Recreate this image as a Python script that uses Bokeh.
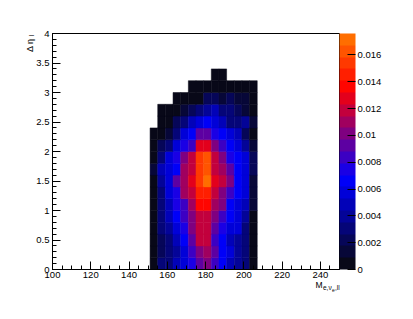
import math
from bokeh.plotting import figure
from bokeh.models import (ColumnDataSource, LinearColorMapper, ColorBar, FixedTicker,
                          SingleIntervalTicker, CustomJSTickFormatter)
from bokeh.core.properties import value
from bokeh.embed import file_html
from bokeh.resources import INLINE

# ---- data ----
x_edges = [151, 155, 159, 163, 167, 171, 175, 179, 183, 187, 191, 195, 199, 203, 207]
y_edges = [0.0, 0.2, 0.4, 0.6, 0.8, 1.0, 1.2, 1.4, 1.6, 1.8, 2.0, 2.2, 2.4, 2.6, 2.8, 3.0, 3.2, 3.4]

# rows from bottom (eta 0-0.2) to top (3.2-3.4); None = empty bin
row00 = [0.0005, 0.0030, 0.0035, 0.0045, 0.0058, 0.0075, 0.0095, 0.0100, 0.0085, 0.0070, 0.0052, 0.0042, 0.0030, 0.0006]
row01 = [0.0005, 0.0022, 0.0032, 0.0042, 0.0060, 0.0085, 0.0102, 0.0110, 0.0090, 0.0068, 0.0055, 0.0038, 0.0030, 0.0006]
row02 = [0.0005, 0.0025, 0.0035, 0.0050, 0.0065, 0.0095, 0.0115, 0.0115, 0.0085, 0.0065, 0.0052, 0.0040, 0.0030, 0.0006]
row03 = [0.0005, 0.0030, 0.0040, 0.0055, 0.0075, 0.0100, 0.0118, 0.0118, 0.0095, 0.0075, 0.0060, 0.0055, 0.0035, 0.0006]
row04 = [0.0005, 0.0030, 0.0048, 0.0063, 0.0085, 0.0105, 0.0122, 0.0122, 0.0100, 0.0085, 0.0063, 0.0058, 0.0040, 0.0006]
row05 = [0.0006, 0.0035, 0.0052, 0.0072, 0.0085, 0.0112, 0.0133, 0.0133, 0.0112, 0.0098, 0.0065, 0.0060, 0.0045, 0.0012]
row06 = [0.0006, 0.0035, 0.0060, 0.0075, 0.0108, 0.0118, 0.0143, 0.0144, 0.0122, 0.0102, 0.0085, 0.0062, 0.0055, 0.0012]
row07 = [0.0006, 0.0040, 0.0060, 0.0090, 0.0112, 0.0125, 0.0150, 0.0175, 0.0132, 0.0115, 0.0102, 0.0065, 0.0058, 0.0012]
row08 = [0.0012, 0.0045, 0.0060, 0.0066, 0.0110, 0.0118, 0.0155, 0.0160, 0.0122, 0.0110, 0.0095, 0.0065, 0.0060, 0.0025]
row09 = [0.0006, 0.0030, 0.0060, 0.0075, 0.0102, 0.0118, 0.0150, 0.0160, 0.0115, 0.0102, 0.0075, 0.0070, 0.0060, 0.0025]
row10 = [0.0005, 0.0020, 0.0030, 0.0055, 0.0072, 0.0085, 0.0130, 0.0130, 0.0102, 0.0085, 0.0063, 0.0058, 0.0040, 0.0010]
row11 = [0.0004, 0.0006, 0.0015, 0.0035, 0.0058, 0.0065, 0.0095, 0.0095, 0.0075, 0.0063, 0.0060, 0.0045, 0.0022, 0.0006]
row12 = [None, 0.0004, 0.0006, 0.0022, 0.0035, 0.0045, 0.0058, 0.0062, 0.0055, 0.0045, 0.0035, 0.0035, 0.0040, 0.0015]
row13 = [None, 0.0004, 0.0004, 0.0006, 0.0012, 0.0020, 0.0030, 0.0040, 0.0045, 0.0030, 0.0030, 0.0025, 0.0015, 0.0006]
row14 = [None, None, None, 0.0004, 0.0004, 0.0006, 0.0008, 0.0020, 0.0022, 0.0012, 0.0022, 0.0015, 0.0012, 0.0006]
row15 = [None, None, None, None, None, 0.0004, 0.0004, 0.0004, 0.0006, 0.0006, 0.0004, 0.0004, 0.0004, 0.0004]
row16 = [None, None, None, None, None, None, None, None, 0.0004, 0.0004, None, None, None, None]
rows = [row00, row01, row02, row03, row04, row05, row06, row07, row08,
        row09, row10, row11, row12, row13, row14, row15, row16]

x_range = (100, 250)
y_range = (0, 4)
x_major = 20
y_major = 0.5
z_ticks = [0, 0.002, 0.004, 0.006, 0.008, 0.010, 0.012, 0.014, 0.016]
z_max = 0.0176

# ---- palette (20 discrete levels, black -> blue -> red -> orange) ----
stops = [(0.0, (8, 8, 24)), (0.38, (0, 0, 255)), (0.78, (255, 0, 0)), (1.0, (255, 110, 0))]
def grad(t):
    for (t0, c0), (t1, c1) in zip(stops[:-1], stops[1:]):
        if t <= t1:
            f = (t - t0) / (t1 - t0)
            return "#%02x%02x%02x" % tuple(int(round(a + (b - a) * f)) for a, b in zip(c0, c1))
    return "#%02x%02x%02x" % stops[-1][1]
palette = [grad(i / 19) for i in range(20)]

# ---- build cells ----
L, R, B, T, V = [], [], [], [], []
for j, row in enumerate(rows):
    for i, v in enumerate(row):
        if v is None:
            continue
        L.append(x_edges[i]); R.append(x_edges[i + 1])
        B.append(y_edges[j]); T.append(y_edges[j + 1]); V.append(v)
src = ColumnDataSource(dict(left=L, right=R, bottom=B, top=T, val=V))

mapper = LinearColorMapper(palette=palette, low=0, high=z_max)

W, H = 405, 311
BL, BT, BR, BB = 52, 33, 66, 42
p = figure(width=W, height=H, x_range=x_range, y_range=y_range,
           output_backend="svg", toolbar_location=None,
           min_border_left=BL, min_border_right=BR, min_border_top=BT, min_border_bottom=BB)
p.background_fill_color = "white"
p.border_fill_color = "white"
p.outline_line_color = "black"
p.outline_line_width = 1
p.xgrid.grid_line_color = None
p.ygrid.grid_line_color = None

p.quad(left="left", right="right", bottom="bottom", top="top", source=src,
       fill_color={"field": "val", "transform": mapper},
       line_color={"field": "val", "transform": mapper}, line_width=0.5)

FONT = "Liberation Sans"
for ax in (p.xaxis[0], p.yaxis[0]):
    ax.axis_line_color = "black"
    ax.major_tick_line_color = "black"
    ax.minor_tick_line_color = "black"
    ax.major_tick_in = 8
    ax.major_tick_out = 0
    ax.minor_tick_in = 4
    ax.minor_tick_out = 0
    ax.major_label_text_font = FONT
    ax.major_label_text_font_size = "9.5px"
    ax.major_label_text_color = "black"
    ax.axis_label = None
p.xaxis.ticker = SingleIntervalTicker(interval=x_major, num_minor_ticks=4)
p.yaxis.ticker = SingleIntervalTicker(interval=y_major, num_minor_ticks=5)
p.xaxis.major_label_standoff = 2
p.yaxis.major_label_standoff = 3

cb = ColorBar(color_mapper=mapper, ticker=FixedTicker(ticks=z_ticks),
              formatter=CustomJSTickFormatter(code="return String(Math.round(tick*1000)/1000)"),
              width=16, padding=0, margin=6,
              major_tick_in=8, major_tick_out=0, major_tick_line_color="black",
              minor_tick_line_color=None, label_standoff=2,
              major_label_text_font=FONT, major_label_text_font_size="9.5px",
              major_label_text_color="black",
              bar_line_color=None, border_line_color=None, background_fill_color=None)
p.add_layout(cb, "right")

# ---- axis titles (overlay-level text so they are not clipped to the frame) ----
fw = W - BL - BR
fh = H - BT - BB
pxx = fw / (x_range[1] - x_range[0])
pxy = fh / (y_range[1] - y_range[0])
def dx(px):  # pixels right of right frame edge -> data x
    return x_range[1] + px / pxx
def dxl(px):  # pixels right of left frame edge -> data x
    return x_range[0] + px / pxx
def dy(px):  # pixels above bottom frame edge -> data y
    return y_range[0] + px / pxy
def dyt(px):  # pixels above top frame edge -> data y
    return y_range[1] + px / pxy

def txt(x, y, s, size, angle=0.0, align="left"):
    r = p.text(x=[x], y=[y], text=[s], angle=angle, text_font=value(FONT),
               text_font_size=value(size), text_color="black",
               text_align=align, text_baseline="alphabetic")
    r.level = "overlay"
    return r

txt(dx(-24), dy(-15.5), "M", "8.5px")
txt(dx(-16.5), dy(-18), "e,ν", "6.5px")
txt(dx(-7.5), dy(-20), "e", "5px")
txt(dx(-4.5), dy(-18), ",ll", "6.5px")

txt(dxl(-23), dyt(-5), "Δ η", "9px", angle=math.pi / 2, align="right")
txt(dxl(-21), dyt(-1), "l", "6.5px", angle=math.pi / 2, align="right")

open("out.html", "w").write(file_html(p, INLINE))
